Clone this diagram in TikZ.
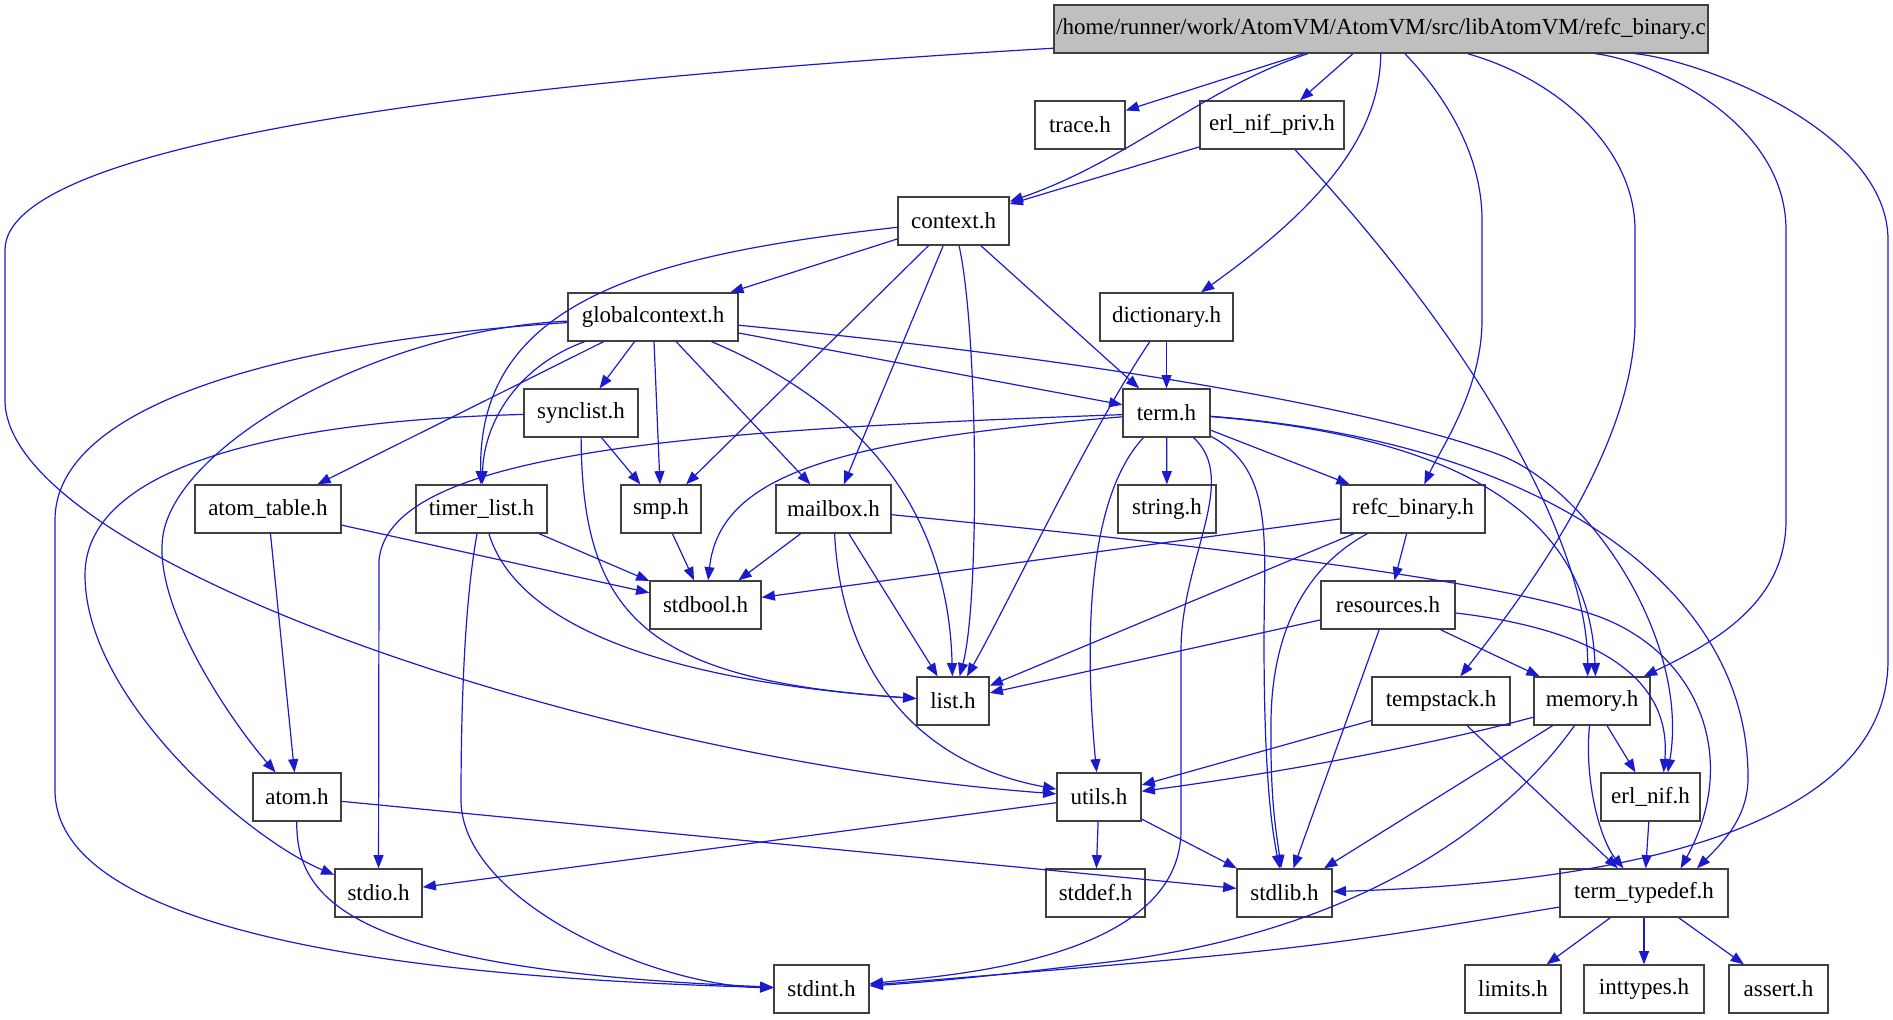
\documentclass[tikz,border=0pt]{standalone}
\usepackage{fontspec}
\setmainfont{Liberation Serif}
\usetikzlibrary{arrows.meta}
\definecolor{edgeblue}{RGB}{26,26,206}
\definecolor{boxline}{RGB}{64,64,64}
\definecolor{rootfill}{RGB}{191,191,191}

\begin{document}
\begin{tikzpicture}[x=0.5pt, y=-0.5pt, >={Triangle[length=6.6pt,width=5pt]},
    font=\fontsize{11.5}{13}\selectfont]
        \tikzset{
          hdr/.style={draw=boxline, line width=0.7pt, fill=white, rectangle,
                      minimum width=#1, minimum height=24pt, inner sep=0pt},
          src/.style={hdr=#1, fill=rootfill},
          dep/.style={draw=edgeblue, line width=0.6pt, ->}
        }
        \useasboundingbox (0,0) rectangle (1893,1019);
        %% --- headers, row by row ---
        \node[src=327pt]  (root)        at (1381,29)    {/home/runner/work/AtomVM/AtomVM/src/libAtomVM/refc\_binary.c};
        \node[hdr=45pt]   (trace)       at (1080,125)   {trace.h};
        \node[hdr=72pt]   (erlnifpriv)  at (1272,125)   {erl\_nif\_priv.h};
        \node[hdr=55.5pt] (context)     at (953.5,221)  {context.h};
        \node[hdr=85pt]   (globalctx)   at (653,317)    {globalcontext.h};
        \node[hdr=66.5pt] (dictionary)  at (1166.5,317) {dictionary.h};
        \node[hdr=57pt]   (synclist)    at (581,413)    {synclist.h};
        \node[hdr=43.5pt] (term)        at (1166.5,413) {term.h};
        \node[hdr=73pt]   (atomtable)   at (268,509)    {atom\_table.h};
        \node[hdr=65.5pt] (timerlist)   at (481.5,509)  {timer\_list.h};
        \node[hdr=40pt]   (smp)         at (661,509)    {smp.h};
        \node[hdr=57.5pt] (mailbox)     at (833.5,509)  {mailbox.h};
        \node[hdr=49pt]   (stringh)     at (1167,509)   {string.h};
        \node[hdr=72pt]   (refcbin)     at (1413,509)   {refc\_binary.h};
        \node[hdr=55.5pt] (stdbool)     at (705.5,605)  {stdbool.h};
        \node[hdr=67pt]   (resources)   at (1388,605)   {resources.h};
        \node[hdr=36pt]   (listh)       at (953,701)    {list.h};
        \node[hdr=69pt]   (tempstack)   at (1441,701)   {tempstack.h};
        \node[hdr=58pt]   (memory)      at (1592,701)   {memory.h};
        \node[hdr=44pt]   (atom)        at (297,797)    {atom.h};
        \node[hdr=42pt]   (utils)       at (1099,797)   {utils.h};
        \node[hdr=49.5pt] (erlnif)      at (1650.5,797) {erl\_nif.h};
        \node[hdr=43.5pt] (stdio)       at (378.5,893)  {stdio.h};
        \node[hdr=49.5pt] (stddef)      at (1095.5,893) {stddef.h};
        \node[hdr=47.5pt] (stdlib)      at (1284.5,893) {stdlib.h};
        \node[hdr=84pt]   (termtypedef) at (1644,893)   {term\_typedef.h};
        \node[hdr=47.5pt] (stdint)      at (821.5,989)  {stdint.h};
        \node[hdr=48pt]   (limits)      at (1513,989)   {limits.h};
        \node[hdr=60pt]   (inttypes)    at (1644,989)   {inttypes.h};
        \node[hdr=49.5pt] (assert)      at (1778.5,989) {assert.h};
        %% --- refc_binary.c ---
        \draw[dep] (root) .. controls (600,75) and (5,130) .. (5,250) -- (5,400) .. controls (5,560) and (600,760) .. (utils);
        \draw[dep] (root) -- (trace);
        \draw[dep] (root) .. controls (1200,90) and (1130,160) .. (context);
        \draw[dep] (root) -- (erlnifpriv);
        \draw[dep] (root) .. controls (1380,130) and (1330,200) .. (dictionary);
        \draw[dep] (root) .. controls (1440,90) and (1482,150) .. (1482,220) -- (1482,320) .. controls (1482,390) and (1440,450) .. (refcbin);
        \draw[dep] (root) .. controls (1560,80) and (1635,150) .. (1635,230) -- (1635,320) .. controls (1635,450) and (1520,600) .. (tempstack);
        \draw[dep] (root) .. controls (1650,60) and (1786,120) .. (1786,230) -- (1786,520) .. controls (1786,600) and (1720,640) .. (memory);
        \draw[dep] (root) .. controls (1700,60) and (1888,130) .. (1888,240) -- (1888,660) .. controls (1888,850) and (1550,885) .. (stdlib);
        %% --- erl_nif_priv.h ---
        \draw[dep] (erlnifpriv) -- (context);
        \draw[dep] (erlnifpriv) .. controls (1500,370) and (1588,560) .. (memory.100);
        %% --- context.h ---
        \draw[dep] (context) -- (globalctx);
        \draw[dep] (context) .. controls (650,255) and (477,300) .. (timerlist);
        \draw[dep] (context) -- (smp);
        \draw[dep] (context) -- (mailbox);
        \draw[dep] (context) .. controls (978,330) and (980,600) .. (listh);
        \draw[dep] (context) -- (term);
        %% --- globalcontext.h ---
        \draw[dep] (globalctx) -- (synclist);
        \draw[dep] (globalctx) -- (smp);
        \draw[dep] (globalctx) -- (mailbox);
        \draw[dep] (globalctx) .. controls (520,365) and (484,420) .. (timerlist);
        \draw[dep] (globalctx) -- (atomtable);
        \draw[dep] (globalctx) .. controls (380,330) and (185,440) .. (164,530) .. controls (148,600) and (230,720) .. (atom);
        \draw[dep] (globalctx) .. controls (300,340) and (55,400) .. (55,520) -- (55,790) .. controls (55,950) and (500,980) .. (stdint);
        \draw[dep] (globalctx) .. controls (850,400) and (948,500) .. (listh);
        \draw[dep] (globalctx) -- (term);
        \draw[dep] (globalctx) .. controls (1100,360) and (1380,410) .. (1500,455) .. controls (1590,490) and (1690,640) .. (erlnif.55);
        %% --- dictionary.h ---
        \draw[dep] (dictionary) -- (term);
        \draw[dep] (dictionary) .. controls (1090,430) and (1010,600) .. (listh);
        %% --- term.h ---
        \draw[dep] (term) -- (stringh);
        \draw[dep] (term) -- (refcbin);
        \draw[dep] (term) .. controls (1085,500) and (1085,650) .. (utils);
        \draw[dep] (term) .. controls (700,430) and (390,450) .. (379,560) -- (stdio);
        \draw[dep] (term) .. controls (850,440) and (720,470) .. (stdbool);
        \draw[dep] (term) .. controls (1240,480) and (1181,560) .. (1181,650) -- (1181,830) .. controls (1181,960) and (950,975) .. (stdint);
        \draw[dep] (term) .. controls (1275,470) and (1264,540) .. (1264,640) .. controls (1264,760) and (1270,820) .. (stdlib);
        \draw[dep] (term) .. controls (1500,440) and (1590,540) .. (memory.82);
        \draw[dep] (term) .. controls (1530,440) and (1750,580) .. (1748,780) .. controls (1747,820) and (1720,845) .. (termtypedef.25);
        %% --- synclist.h, timer_list.h, atom_table.h, smp.h ---
        \draw[dep] (synclist) -- (smp);
        \draw[dep] (synclist) .. controls (300,420) and (85,460) .. (85,575) .. controls (85,700) and (250,840) .. (stdio);
        \draw[dep] (synclist) .. controls (582,620) and (650,680) .. (listh);
        \draw[dep] (timerlist) -- (stdbool);
        \draw[dep] (timerlist) .. controls (515,620) and (650,680) .. (listh);
        \draw[dep] (timerlist) .. controls (465,600) and (461,700) .. (461,800) .. controls (461,900) and (650,985) .. (stdint);
        \draw[dep] (atomtable) -- (atom);
        \draw[dep] (atomtable) -- (stdbool);
        \draw[dep] (smp) -- (stdbool);
        %% --- mailbox.h ---
        \draw[dep] (mailbox) -- (stdbool);
        \draw[dep] (mailbox) -- (listh);
        \draw[dep] (mailbox) .. controls (840,650) and (900,760) .. (utils);
        \draw[dep] (mailbox) .. controls (1200,545) and (1500,580) .. (1600,617) .. controls (1700,655) and (1740,760) .. (termtypedef.34);
        %% --- refc_binary.h, resources.h ---
        \draw[dep] (refcbin) -- (stdbool);
        \draw[dep] (refcbin) -- (listh);
        \draw[dep] (refcbin) -- (resources);
        \draw[dep] (refcbin) .. controls (1300,570) and (1272,640) .. (1271,720) .. controls (1270,800) and (1276,830) .. (stdlib);
        \draw[dep] (resources) -- (listh);
        \draw[dep] (resources) -- (memory);
        \draw[dep] (resources) -- (stdlib);
        \draw[dep] (resources) .. controls (1600,630) and (1672,680) .. (erlnif.62);
        %% --- tempstack.h, memory.h ---
        \draw[dep] (tempstack) -- (utils);
        \draw[dep] (tempstack) -- (termtypedef);
        \draw[dep] (memory) -- (erlnif);
        \draw[dep] (memory) .. controls (1450,740) and (1300,770) .. (utils);
        \draw[dep] (memory) -- (stdlib);
        \draw[dep] (memory) .. controls (1500,830) and (1350,935) .. (1100,963) .. controls (1000,975) and (930,982) .. (stdint);
        \draw[dep] (memory) .. controls (1584,780) and (1600,840) .. (termtypedef);
        %% --- atom.h, utils.h, erl_nif.h, term_typedef.h ---
        \draw[dep] (atom) -- (stdlib);
        \draw[dep] (atom) .. controls (296,900) and (350,970) .. (stdint);
        \draw[dep] (utils) -- (stdio);
        \draw[dep] (utils) -- (stddef);
        \draw[dep] (utils) -- (stdlib);
        \draw[dep] (erlnif) -- (termtypedef);
        \draw[dep] (termtypedef) .. controls (1300,950) .. (stdint);
        \draw[dep] (termtypedef) -- (limits);
        \draw[dep] (termtypedef) -- (inttypes);
        \draw[dep] (termtypedef) -- (assert);
    \end{tikzpicture}
\end{document}
